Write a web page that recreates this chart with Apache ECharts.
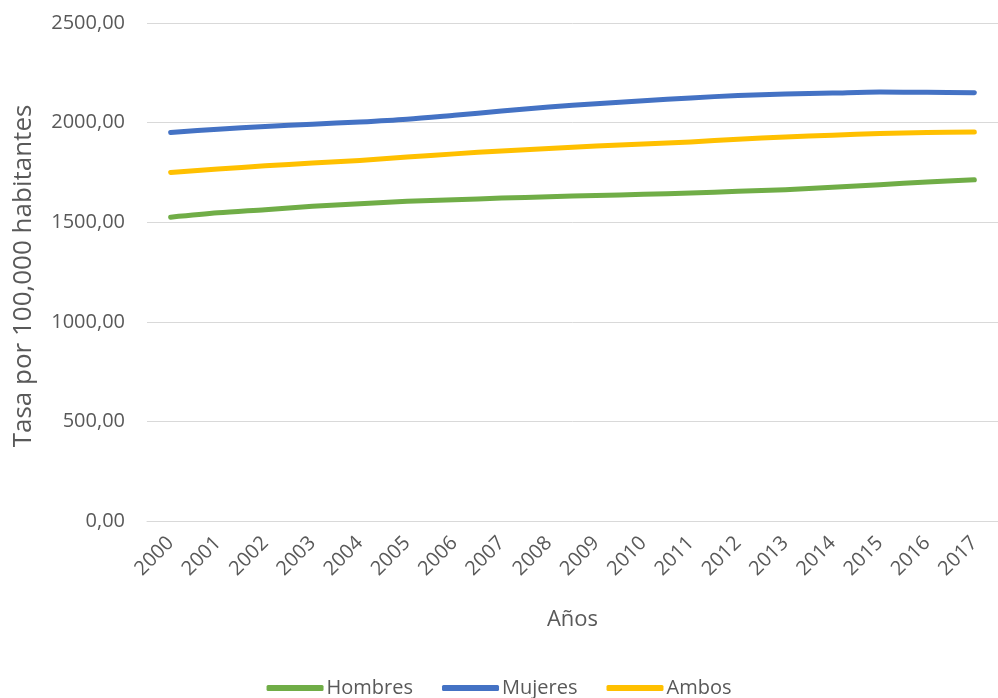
<!DOCTYPE html>
<html>
<head>
<meta charset="utf-8">
<script src="https://cdn.jsdelivr.net/npm/echarts@6/dist/echarts.min.js"></script>
<style>
  html, body { margin: 0; padding: 0; background: #ffffff; }
  #chart { width: 998px; height: 698px; }
</style>
</head>
<body>
<div id="chart"></div>
<script>
// Years on the category axis
const years = ['2000','2001','2002','2003','2004','2005','2006','2007','2008',
               '2009','2010','2011','2012','2013','2014','2015','2016','2017'];

// Rate per 100,000 inhabitants
const hombres = [1525, 1547, 1563, 1580, 1593, 1605, 1613, 1621, 1628,
                 1634, 1640, 1647, 1655, 1663, 1675, 1688, 1702, 1713];
const mujeres = [1950, 1967, 1980, 1992, 2003, 2017, 2037, 2058, 2078,
                 2095, 2110, 2124, 2136, 2143, 2148, 2153, 2152, 2150];
const ambos   = [1750, 1767, 1783, 1797, 1810, 1827, 1843, 1858, 1870,
                 1882, 1893, 1903, 1917, 1928, 1937, 1945, 1950, 1953];

const seriesNames = ['Hombres', 'Mujeres', 'Ambos'];
const seriesColors = ['#70AD47', '#4472C4', '#FFC000'];

const FONT = 'Open Sans';
const TEXT = '#595959';

function fmt(v) {
  return v.toFixed(2).replace('.', ',');
}

const chart = echarts.init(document.getElementById('chart'), null, { renderer: 'canvas' });

function lineSeries(name, data, color) {
  return {
    name: name,
    type: 'line',
    data: data,
    symbol: 'none',
    smooth: 0.3,
    lineStyle: { color: color, width: 5, cap: 'round', join: 'round' },
    itemStyle: { color: color }
  };
}

chart.setOption({
  animation: false,
  backgroundColor: '#ffffff',
  textStyle: { fontFamily: FONT },
  grid: { left: 147, top: 23, width: 860, height: 498, containLabel: false },
  legend: {
    data: seriesNames.map(function (n) { return { name: n, icon: 'roundRect' }; }),
    bottom: -5,
    left: 'center',
    itemWidth: 57,
    itemHeight: 6,
    itemGap: 29,
    itemStyle: { borderWidth: 0 },
    textStyle: { fontFamily: FONT, fontSize: 20, color: TEXT, padding: [0, 0, 0, -2] }
  },
  xAxis: {
    type: 'category',
    data: years,
    boundaryGap: true,
    name: 'Años',
    nameLocation: 'middle',
    nameGap: 88,
    nameTextStyle: { fontFamily: FONT, fontSize: 22, color: TEXT },
    axisLine: { show: true, lineStyle: { color: '#D9D9D9', width: 1 } },
    axisTick: { show: false },
    axisLabel: { rotate: 45, margin: 19, fontFamily: FONT, fontSize: 20, color: TEXT, interval: 0 }
  },
  yAxis: {
    type: 'value',
    min: 0,
    max: 2500,
    interval: 500,
    name: 'Tasa por 100,000 habitantes',
    nameLocation: 'middle',
    nameRotate: 90,
    nameGap: 110,
    nameTextStyle: { fontFamily: FONT, fontSize: 26, color: TEXT, padding: [0, 8, 0, 0] },
    axisLine: { show: false },
    axisTick: { show: false },
    splitLine: { show: true, lineStyle: { color: '#D9D9D9', width: 1 } },
    axisLabel: { formatter: fmt, margin: 22, fontFamily: FONT, fontSize: 20, color: TEXT }
  },
  series: [
    lineSeries(seriesNames[0], hombres, seriesColors[0]),
    lineSeries(seriesNames[1], mujeres, seriesColors[1]),
    lineSeries(seriesNames[2], ambos, seriesColors[2])
  ]
});
</script>
</body>
</html>
